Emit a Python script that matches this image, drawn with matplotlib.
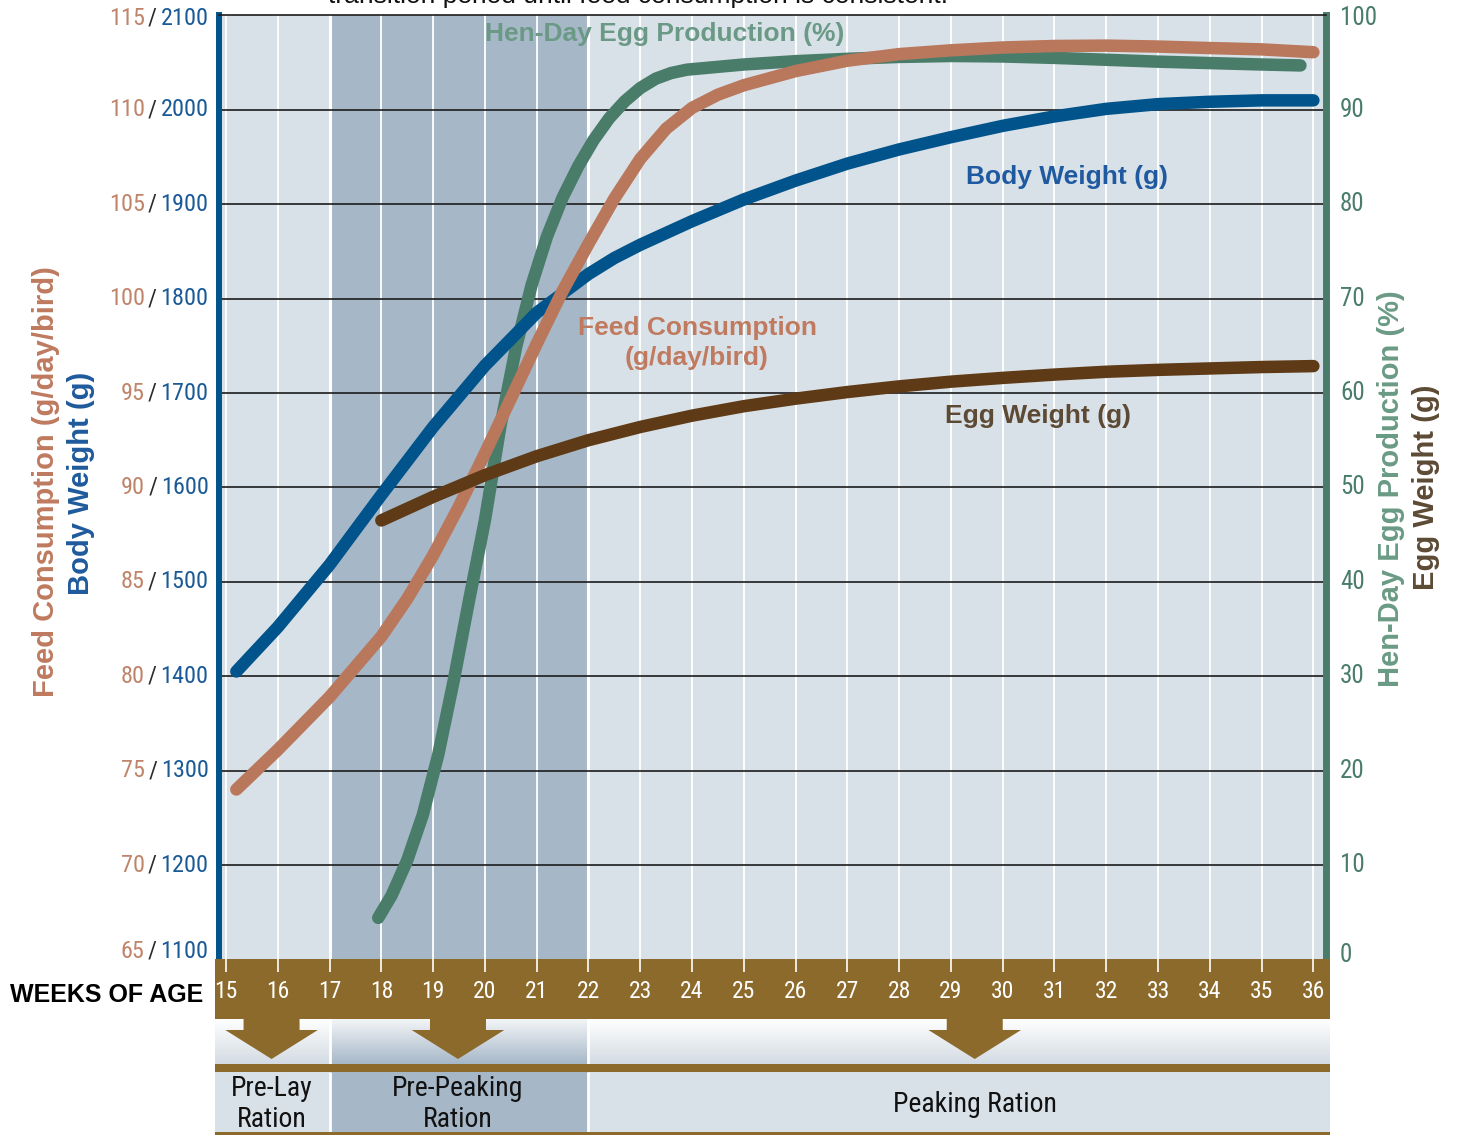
import matplotlib
matplotlib.use("Agg")
import numpy as np
import matplotlib.pyplot as plt
from matplotlib import font_manager
from matplotlib.offsetbox import TextArea, HPacker, AnnotationBbox
from matplotlib.patches import Rectangle, Polygon
from matplotlib.colors import LinearSegmentedColormap

# ---------------- data ----------------
weeks_axis = list(range(15, 37))
feed_ticks = [65, 70, 75, 80, 85, 90, 95, 100, 105, 110, 115]
bw_ticks = [1100, 1200, 1300, 1400, 1500, 1600, 1700, 1800, 1900, 2000, 2100]
egg_ticks = [0, 10, 20, 30, 40, 50, 60, 70, 80, 90, 100]

bw_weeks = [15.2, 16, 17, 18, 19, 20, 21, 22, 22.5, 23, 24, 25, 26, 27, 28, 29,
            30, 31, 32, 33, 34, 35, 36]
bw_values = [1405, 1452, 1518, 1592, 1664, 1729, 1785, 1826, 1843, 1857, 1882,
             1905, 1925, 1943, 1958, 1971, 1983, 1993, 2001, 2006, 2008.5,
             2010, 2010]

feed_weeks = [15.2, 16, 17, 18, 18.5, 19, 19.5, 20, 20.5, 21, 21.5, 22, 22.5,
              23, 23.5, 24, 24.5, 25, 26, 27, 28, 29, 30, 31, 32, 33, 34, 35, 36]
feed_values = [74.0, 76.1, 78.9, 82.1, 84.1, 86.4, 89.0, 91.8, 94.7, 97.6,
               100.4, 102.9, 105.3, 107.4, 109.0, 110.1, 110.8, 111.3, 112.05,
               112.6, 112.95, 113.15, 113.3, 113.38, 113.4, 113.35, 113.27,
               113.2, 113.05]

egg_prod_weeks = [17.94, 18.2, 18.5, 18.8, 19.1, 19.4, 19.7, 20.0, 20.3, 20.6,
                  20.9, 21.2, 21.5, 21.8, 22.1, 22.4, 22.7, 23.0, 23.3, 23.6,
                  23.9, 24.5, 25, 26, 27, 28, 29, 30, 31, 32, 33, 34, 35, 35.75]
egg_prod_values = [4.4, 6.8, 10.5, 15.3, 21.7, 29.6, 38.2, 46.5, 56.5, 64.8,
                   71.4, 76.6, 80.7, 84.0, 86.8, 89.1, 90.9, 92.3, 93.3, 93.9,
                   94.25, 94.55, 94.8, 95.15, 95.4, 95.6, 95.7, 95.65, 95.5,
                   95.3, 95.1, 94.95, 94.8, 94.7]

egg_wt_weeks = [18, 19, 20, 21, 22, 23, 24, 25, 26, 27, 28, 29, 30, 31, 32, 33,
                34, 35, 36]
egg_wt_values = [46.5, 49.0, 51.3, 53.3, 55.0, 56.4, 57.6, 58.6, 59.4, 60.1,
                 60.7, 61.2, 61.6, 61.95, 62.25, 62.45, 62.6, 62.75, 62.85]

ration_labels = ["Pre-Lay\nRation", "Pre-Peaking\nRation", "Peaking Ration"]
ration_bounds = [17, 22]
ration_arrow_weeks = [15.88, 19.48, 29.46]

# ---------------- fonts ----------------
names = {f.name for f in font_manager.fontManager.ttflist}
if "Liberation Sans Narrow" in names:
    NARROW, NSTRETCH = "Liberation Sans Narrow", "normal"
elif "Roboto Condensed" in names:
    NARROW, NSTRETCH = "Roboto Condensed", "normal"
else:
    NARROW, NSTRETCH = "DejaVu Sans", "condensed"
SANS = "Liberation Sans" if "Liberation Sans" in names else "DejaVu Sans"

# ---------------- colours ----------------
BG = "#d9e1e8"
SHADE = "#a6b8c8"
BLUE = "#00548b"
SALMON = "#b9775c"
GREEN = "#4a7c6a"
BROWN = "#5f3a16"
BAND = "#8c6a2b"

W, H = 1459, 1135
fig = plt.figure(figsize=(W / 100, H / 100), dpi=100)


def fx(p):
    return p / W


def fy(p):
    return 1 - p / H


def wk(p):
    return 15 + (p - 226) / 51.78


# ---------------- main axes ----------------
top_px, bot_px = 15.4, 959.4
ax = fig.add_axes([fx(219), fy(bot_px), fx(1326) - fx(219), fy(top_px) - fy(bot_px)])
ax.set_xlim(wk(219), wk(1326))
ax.set_ylim(feed_ticks[0], feed_ticks[-1])
ax.set_facecolor(BG)
ax.axvspan(ration_bounds[0], ration_bounds[1], color=SHADE, lw=0, zorder=0.5)
for w in weeks_axis:
    lw = 2.2 if w in ration_bounds else 1.3
    ax.axvline(w, color="white", lw=lw, zorder=1)
for v in feed_ticks[1:-1]:
    ax.axhline(v, color="#1c1c1c", lw=1.2, zorder=1.5)
ax.set_xticks([])
ax.set_yticks([])
ax.spines["left"].set_color(BLUE)
ax.spines["left"].set_linewidth(4.3)
ax.spines["right"].set_color(GREEN)
ax.spines["right"].set_linewidth(5.0)
ax.spines["top"].set_color("#1c1c1c")
ax.spines["top"].set_linewidth(1.2)
ax.spines["bottom"].set_visible(False)

ax_bw = ax.twinx()
ax_bw.set_ylim(bw_ticks[0], bw_ticks[-1])
ax_bw.axis("off")

ax_r = ax.twinx()
ax_r.set_ylim(egg_ticks[0], egg_ticks[-1])
ax_r.set_yticks([])
for s in ax_r.spines.values():
    s.set_visible(False)

LW = 9.0
kw = dict(solid_capstyle="round", solid_joinstyle="round", lw=LW)
ax.plot(egg_prod_weeks, egg_prod_values, transform=ax_r.transData,
        color=GREEN, zorder=3, **kw)
ax.plot(bw_weeks, bw_values, transform=ax_bw.transData,
        color=BLUE, zorder=4, **kw)
ax.plot(feed_weeks, feed_values, color=SALMON, zorder=5, **kw)
ax.plot(egg_wt_weeks, egg_wt_values, transform=ax_r.transData,
        color=BROWN, zorder=6, **kw)

# left composite tick labels
tp = dict(fontsize=17.5, family=NARROW, fontstretch=NSTRETCH)
for f, b in zip(feed_ticks, bw_ticks):
    box = HPacker(children=[
        TextArea(str(f), textprops=dict(color="#c0846a", **tp)),
        TextArea("/", textprops=dict(color="#2a2a2a", **tp)),
        TextArea(str(b), textprops=dict(color="#1a5a96", **tp)),
    ], align="baseline", pad=0, sep=2.5)
    dy = 6 if f == feed_ticks[0] else (-2 if f == feed_ticks[-1] else 0)
    ab = AnnotationBbox(box, (0, f), xycoords=("axes fraction", "data"),
                        xybox=(-7.5, dy), boxcoords="offset points",
                        box_alignment=(1, 0.5), frameon=False,
                        annotation_clip=False, pad=0)
    ax.add_artist(ab)

# right tick labels
for v in egg_ticks:
    dy = 3 if v == egg_ticks[0] else (-2 if v == egg_ticks[-1] else 0)
    ax_r.annotate(str(v), xy=(1, v), xycoords=("axes fraction", "data"),
                  xytext=(10, dy), textcoords="offset points", ha="left",
                  va="center", color=GREEN, fontsize=18, family=NARROW,
                  fontstretch=NSTRETCH, annotation_clip=False)

# axis titles
bold = dict(fontweight="bold", family=SANS)
fig.text(fx(46), fy(482), "Feed Consumption (g/day/bird)", rotation=90,
         ha="center", va="center", color="#bf7a5f", fontsize=21, **bold)
fig.text(fx(81), fy(483), "Body Weight (g)", rotation=90,
         ha="center", va="center", color="#1f5a9c", fontsize=21, **bold)
fig.text(fx(1391), fy(489), "Hen-Day Egg Production (%)", rotation=90,
         ha="center", va="center", color="#6a9a85", fontsize=21, **bold)
fig.text(fx(1426), fy(487), "Egg Weight (g)", rotation=90,
         ha="center", va="center", color="#5c4a34", fontsize=21, **bold)

# curve labels
fig.text(fx(665), fy(34), "Hen-Day Egg Production (%)", ha="center", va="center",
         color="#6a9a85", fontsize=19, zorder=10, **bold)
fig.text(fx(1067), fy(177), "Body Weight (g)", ha="center", va="center",
         color="#1f5aa0", fontsize=19, zorder=10, **bold)
fig.text(fx(697), fy(343), "Feed Consumption\n(g/day/bird)", ha="center",
         va="center", color="#bf7a5f", fontsize=19, linespacing=1.35,
         zorder=10, **bold)
fig.text(fx(1038), fy(416), "Egg Weight (g)", ha="center", va="center",
         color="#5c4a34", fontsize=19, zorder=10, **bold)

# cut-off heading at the very top
fig.text(fx(328), fy(3), "transition period until feed consumption is consistent.",
         ha="left", va="baseline", fontsize=19, family=SANS, color="#111111")

# ---------------- bottom strip ----------------
axb = fig.add_axes([fx(215), 0, fx(1330) - fx(215), (H - bot_px) / H])
x0, x1 = wk(215), wk(1330)
segs = [(x0, ration_bounds[0], "#ffffff", "#d3dbe3", BG),
        (ration_bounds[0], ration_bounds[1], "#f3f5f7", SHADE, SHADE),
        (ration_bounds[1], x1, "#ffffff", "#d3dbe3", BG)]
grad = np.linspace(0, 1, 128)[:, None]
for a, b, ct, cb, box_c in segs:
    cmap = LinearSegmentedColormap.from_list("g", [ct, cb])
    axb.imshow(grad, extent=(a, b, 1064, 1019), cmap=cmap, aspect="auto",
               interpolation="bilinear", zorder=1)
    axb.add_patch(Rectangle((a, 1072), b - a, 60, color=box_c, lw=0, zorder=1))
axb.vlines(ration_bounds, 1019, 1064, color="white", lw=2, zorder=2)
axb.vlines(ration_bounds, 1072, 1132, color="white", lw=2, zorder=2)

axb.add_patch(Rectangle((x0, bot_px - 1), x1 - x0, 1019 - bot_px + 1,
                        color=BAND, lw=0, zorder=3))
axb.add_patch(Rectangle((x0, 1064), x1 - x0, 8, color=BAND, lw=0, zorder=3))
axb.add_patch(Rectangle((x0, 1132), x1 - x0, 4, color=BAND, lw=0, zorder=3))
axb.vlines(weeks_axis, bot_px - 1, 972, color="white", lw=1.2, zorder=4)
for w in weeks_axis:
    axb.text(w, 992, str(w), ha="center", va="center", color="white",
             fontsize=17, family=NARROW, fontstretch=NSTRETCH, zorder=5)

sw, tw = 28 / 51.78, 46.3 / 51.78
for aw in ration_arrow_weeks:
    pts = [(aw - sw, 1017), (aw + sw, 1017), (aw + sw, 1030), (aw + tw, 1030),
           (aw, 1059), (aw - tw, 1030), (aw - sw, 1030)]
    axb.add_patch(Polygon(pts, closed=True, color=BAND, lw=0, zorder=3))

for aw, lab in zip(ration_arrow_weeks, ration_labels):
    axb.text(aw, 1104, lab, ha="center", va="center", fontsize=20,
             family=NARROW, fontstretch=NSTRETCH, color="#111111",
             linespacing=1.2, zorder=5)

axb.set_xlim(x0, x1)
axb.set_ylim(H, bot_px)
axb.axis("off")

fig.text(fx(203), fy(995), "WEEKS OF AGE", ha="right", va="center",
         fontsize=18, color="black", **bold)

fig.savefig("out.png", dpi=100)
